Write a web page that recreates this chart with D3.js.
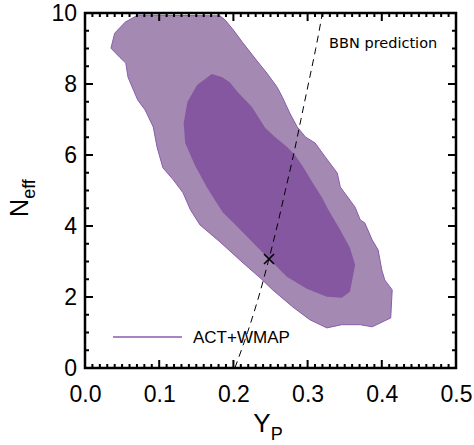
<!DOCTYPE html>
<meta charset="utf-8">
<style>
  body { margin: 0; background: #fff; }
  text { font-family: 'Liberation Sans', Arial, sans-serif; fill: #000; }
</style>
<svg width="474" height="445"></svg>
<script src="https://d3js.org/d3.v7.min.js"></script>
<script>
// 95% contour (Yp, Neff)
var outerYp = [0.071,0.182,0.189,0.200,0.212,0.233,0.245,0.259,0.266,0.276,0.286,0.297,0.310,0.324,0.334,0.340,0.344,0.364,0.371,0.377,0.387,0.395,0.400,0.404,0.414,0.412,0.387,0.371,0.346,0.326,0.303,0.280,0.253,0.236,0.213,0.182,0.155,0.142,0.132,0.119,0.105,0.097,0.092,0.081,0.071,0.058,0.055,0.047,0.035,0.040,0.054];
var outerN  = [9.94,9.92,9.80,9.52,9.18,8.62,8.31,7.91,7.63,7.18,6.79,6.51,6.34,5.94,5.66,5.49,5.10,4.53,4.17,4.09,3.61,3.33,2.76,2.48,2.20,1.41,1.16,1.22,1.22,1.13,1.36,1.72,2.20,2.54,2.96,3.55,4.03,4.46,4.94,5.30,5.64,6.23,6.79,7.27,7.55,8.19,8.59,8.75,9.01,9.43,9.74];
// 68% contour
var innerYp = [0.171,0.185,0.195,0.206,0.225,0.243,0.256,0.272,0.283,0.294,0.307,0.319,0.328,0.344,0.357,0.364,0.361,0.357,0.346,0.326,0.299,0.272,0.248,0.232,0.200,0.186,0.175,0.164,0.148,0.135,0.133,0.138,0.151];
var innerN  = [8.28,8.19,8.05,7.77,7.35,6.76,6.51,6.23,6.00,5.66,5.21,4.82,4.46,3.89,3.39,2.91,2.57,2.15,1.98,2.01,2.23,2.57,3.07,3.41,4.09,4.37,4.73,5.10,5.72,6.34,6.90,7.49,7.97];
// BBN prediction curve
var bbnN  = [0,1,2,3,4,5,6,7,8,9,10];
var bbnYp = [0.202,0.219,0.234,0.247,0.259,0.270,0.281,0.291,0.301,0.311,0.320];
var bestFit = [0.248, 3.07];
var xTicks = [0, 0.1, 0.2, 0.3, 0.4, 0.5];
var yTicks = [0, 2, 4, 6, 8, 10];

var svg = d3.select("svg"),
    margin = {top: 13, right: 18, bottom: 77, left: 85},
    width = +svg.attr("width") - margin.left - margin.right,
    height = +svg.attr("height") - margin.top - margin.bottom,
    g = svg.append("g").attr("transform", "translate(" + margin.left + "," + margin.top + ")");

var x = d3.scaleLinear().domain([0, 0.5]).range([0, width]);
var y = d3.scaleLinear().domain([0, 10]).range([height, 0]);

var line = d3.line()
    .x(function(d) { return x(d[0]); })
    .y(function(d) { return y(d[1]); });

var outer = d3.zip(outerYp, outerN),
    inner = d3.zip(innerYp, innerN);

g.append("path")
    .attr("d", line.curve(d3.curveLinearClosed)(outer))
    .attr("fill", "#a489b2")
    .attr("stroke", "#8a5cb0")
    .attr("stroke-width", 1);

g.append("path")
    .attr("d", line.curve(d3.curveLinearClosed)(inner))
    .attr("fill", "#8557a1");

g.append("path")
    .attr("d", line.curve(d3.curveMonotoneY)(d3.zip(bbnYp, bbnN)))
    .attr("fill", "none")
    .attr("stroke", "#000")
    .attr("stroke-width", 1)
    .attr("stroke-dasharray", "7,5");

var bx = x(bestFit[0]), by = y(bestFit[1]);
g.append("path")
    .attr("d", "M" + (bx-5) + "," + (by-5) + "L" + (bx+5) + "," + (by+5) +
               "M" + (bx-5) + "," + (by+5) + "L" + (bx+5) + "," + (by-5))
    .attr("stroke", "#000")
    .attr("stroke-width", 1.6);

// tick labels from d3 axes
g.append("g")
    .attr("transform", "translate(0," + height + ")")
    .call(d3.axisBottom(x).tickValues(xTicks).tickSize(0).tickPadding(18).tickFormat(d3.format(".1f")));
g.append("g")
    .call(d3.axisLeft(y).tickValues(yTicks).tickSize(0).tickPadding(8));
g.selectAll(".domain").remove();
g.selectAll(".tick text").style("font-size", "23px").attr("fill", "#000");

// tick marks, inward on all four sides
var xMinor = d3.range(0, 51).map(function(i) { return i / 100; }),
    yMinor = d3.range(0, 21).map(function(i) { return i / 2; });
function isMajorX(v) { return Math.abs(v * 10 - Math.round(v * 10)) < 1e-6; }
function isMajorY(v) { return Math.abs(v / 2 - Math.round(v / 2)) < 1e-6; }

var tickPath = "";
[0, height].forEach(function(y0) {
  var dir = y0 === 0 ? 1 : -1;
  xMinor.forEach(function(d) {
    var len = isMajorX(d) ? 8 : 4;
    tickPath += "M" + x(d) + "," + y0 + "V" + (y0 + dir * len);
  });
});
[0, width].forEach(function(x0) {
  var dir = x0 === 0 ? 1 : -1;
  yMinor.forEach(function(d) {
    var len = isMajorY(d) ? 8 : 4;
    tickPath += "M" + x0 + "," + y(d) + "H" + (x0 + dir * len);
  });
});
g.append("path")
    .attr("d", tickPath)
    .attr("fill", "none")
    .style("stroke", "#000")
    .style("stroke-width", "2px");

g.append("rect")
    .attr("width", width)
    .attr("height", height)
    .attr("fill", "none")
    .attr("stroke", "#000")
    .attr("stroke-width", 2.5);

// labels
var yl = svg.append("text")
    .attr("transform", "translate(28,198) rotate(-90)")
    .attr("text-anchor", "middle")
    .style("font-size", "25px");
yl.append("tspan").text("N");
yl.append("tspan").attr("dy", 7).style("font-size", "18px").text("eff");

var xl = svg.append("text")
    .attr("x", 268)
    .attr("y", 432)
    .attr("text-anchor", "middle")
    .style("font-size", "26px");
xl.append("tspan").text("Y");
xl.append("tspan").attr("dy", 8).style("font-size", "18px").text("P");

g.append("text")
    .attr("x", x(0.329))
    .attr("y", 35)
    .style("font-family", "'DejaVu Sans', sans-serif")
    .style("font-size", "14.5px")
    .text("BBN prediction");

// legend
g.append("line")
    .attr("x1", 28).attr("x2", 97)
    .attr("y1", 324).attr("y2", 324)
    .attr("stroke", "#8a5cb0")
    .attr("stroke-width", 1.5);
g.append("text")
    .attr("x", 108)
    .attr("y", 330)
    .style("font-size", "17px")
    .text("ACT+WMAP");
</script>
